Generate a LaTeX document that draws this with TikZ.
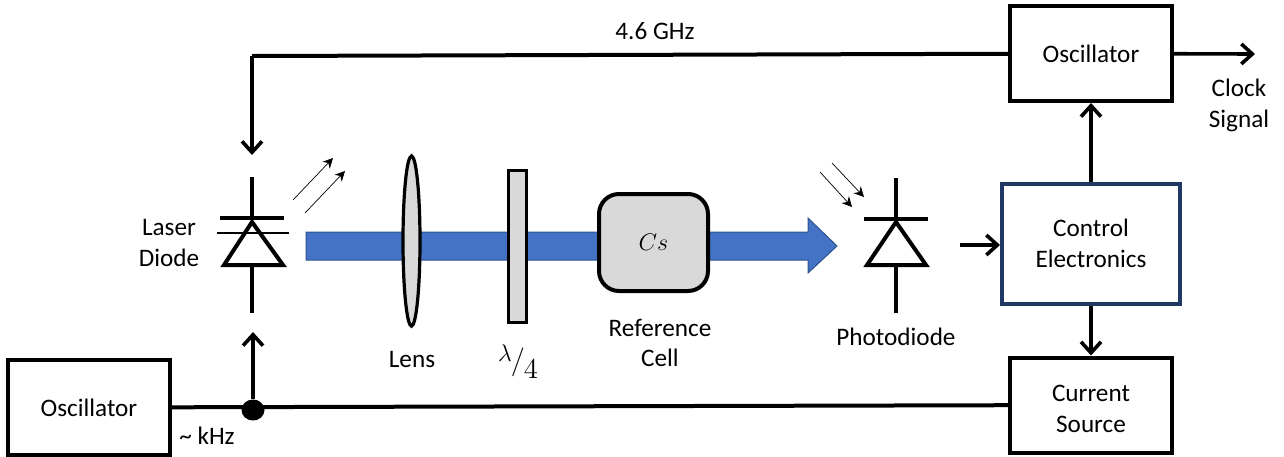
\documentclass[tikz,border=0pt]{standalone}
\usepackage{fontspec}
\setmainfont{Carlito}
\usetikzlibrary{arrows.meta,shapes.geometric}
\definecolor{beamblue}{HTML}{4472C4}
\definecolor{beamedge}{HTML}{2F528F}
\definecolor{partgray}{HTML}{D9D9D9}
\definecolor{ctrlnavy}{HTML}{1F3864}
\tikzset{
    txt/.style={font=\fontsize{12.6}{15.4}\selectfont, align=center},
    box/.style={draw, line width=2pt, txt, minimum width=81pt, minimum height=47.5pt},
    sig/.style={line width=1.8pt, -{Straight Barb[length=5.5pt,width=10pt,line width=1.8pt]}},
    wire/.style={line width=2pt},
    ray/.style={line width=0.35pt, -{Stealth[length=5pt,width=5pt]}},
    part/.style={draw, line width=1.6pt, fill=partgray},
}
\begin{document}
\begin{tikzpicture}[x=0.5pt,y=-0.5pt]
    \useasboundingbox (0,0) rectangle (1284,456);

    % Blocks
    \node[box] (oscTop) at (1091,53.5) {Oscillator};
    \node[box] (oscBot) at (89,407.5) {Oscillator};
    \node[box] (source) at (1091,405) {\raisebox{-2pt}[\height][\depth]{Current}\\\raisebox{-2pt}[\height][\depth]{Source}};
    \node[box, draw=ctrlnavy, minimum width=89pt, minimum height=60pt] (control) at (1091,244) {\raisebox{1pt}{Control}\\\raisebox{1pt}{Electronics}};

    % Beam (x 306 -> 837)
    \draw[beamedge, fill=beamblue, line width=0.5pt] (306,232) -- (808,232) -- (808,218) -- (837,246)
        -- (808,273) -- (808,260) -- (306,260) -- cycle;

    % Lens, plate and cell sit on the beam
    \node[part, ellipse, minimum width=8.5pt, minimum height=85pt, inner sep=0pt] (lens) at (411.5,241) {};
    \node[part, minimum width=9pt, minimum height=76pt, inner sep=0pt] (plate) at (517.5,246.5) {};
    \node[part, line width=2pt, rounded corners=10pt, minimum width=54.5pt, minimum height=48.5pt, font=\fontsize{12}{15}\selectfont] (cell) at (653.5,242.5) {$Cs$};

    % Laser diode
    \coordinate (laserTop) at (252,177);
    \coordinate (laserBot) at (252,313);
    \draw[wire] (laserTop) -- (252,220);
    \draw[wire] (220,218) -- (284,218);
    \draw[wire, line join=miter] (252,222) -- (283,265) -- (224,265) -- cycle;
    \draw[line width=1.2pt] (217,233) -- (289,233);
    \draw[wire] (252,265) -- (laserBot);
    \draw[ray] (293,200) -- (333,158);
    \draw[ray] (305,213) -- (345,171);

    % Photodiode
    \draw[wire] (896,178) -- (896,220);
    \draw[wire] (864,219) -- (928,219);
    \draw[wire, line join=miter] (896,222) -- (926,265) -- (867,265) -- cycle;
    \draw[wire] (896,265) -- (896,313);
    \draw[ray] (820,172) -- (852,207);
    \draw[ray] (832,163) -- (864,197);

    % Connections
    \coordinate (corner) at (252,56);
    \coordinate (laserIn) at (252,155);
    \coordinate (pdOut) at (960,245);
    \coordinate (clockOut) at (1255,54);
    \coordinate (ledUp) at (253,332);
    \draw[wire] (oscTop) -- (corner);
    \draw[sig] (corner) -- (laserIn);
    \draw[sig] (pdOut) -- (control.west |- pdOut);
    \draw[sig] (control) -- (oscTop);
    \draw[sig] (control) -- (source);
    \draw[sig] (oscTop) -- (clockOut);
    \draw[wire] (oscBot) -- (source);
    \node[fill, ellipse, minimum width=11.5pt, minimum height=10.5pt, inner sep=0pt] (tap) at (253,410) {};
    \draw[sig] (tap) -- (ledUp);

    % Labels
    \node[txt] (freqHigh) at (655,31) {4.6 GHz};
    \node[txt] (clockLbl) at (1239,105.5) {Clock\\Signal};
    \node[txt] (laserLbl) at (169,243) {Laser\\Diode};
    \node[txt] (lensLbl) at (412,359) {Lens};
    \node[txt, font=\fontsize{15}{18}\selectfont] (plateLbl) at (518,362) {{\fontsize{12}{15}\selectfont\raisebox{4pt}{$\lambda$}}\kern-0.5pt$/$\kern-0.5pt\raisebox{-4.5pt}{$4$}};
    \node[txt] (cellLbl) at (660,343) {Reference\\Cell};
    \node[txt] (pdLbl) at (896,337) {Photodiode};
    \node[txt] (freqLow) at (207,436) {\textasciitilde{} kHz};
\end{tikzpicture}
\end{document}
